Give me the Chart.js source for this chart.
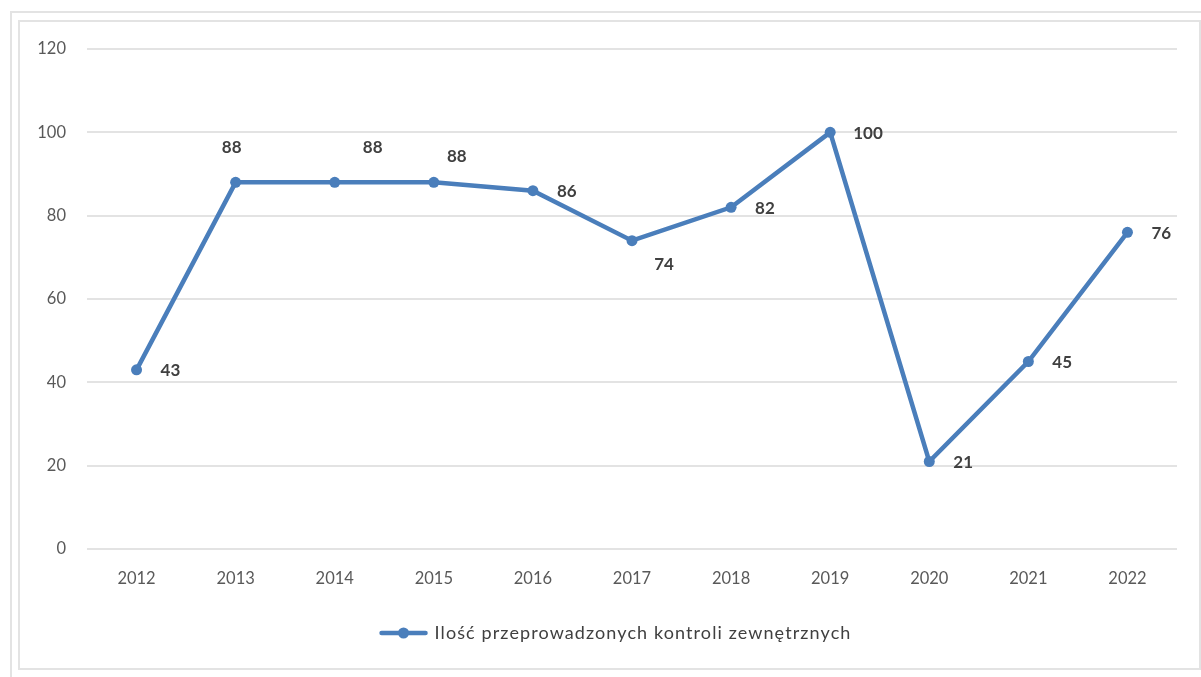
<!DOCTYPE html>
<html lang="pl">
<head>
<meta charset="utf-8">
<title>Ilość przeprowadzonych kontroli zewnętrznych</title>
<script src="https://cdn.jsdelivr.net/npm/chart.js@4.4.1/dist/chart.umd.min.js"></script>
<style>
  html, body { margin: 0; padding: 0; background: #ffffff; }
  body { width: 1201px; height: 677px; position: relative; overflow: hidden; }
  .frame-outer { position: absolute; left: 10px; top: 11px; width: 1200px; height: 700px;
                 border-left: 2px solid #e3e3e3; border-top: 2px solid #e3e3e3; box-sizing: border-box; }
  .frame-inner { position: absolute; left: 18px; top: 20px; width: 1183px; height: 650px;
                 border: 2px solid #e3e3e3; box-sizing: border-box; }
  #wrap { position: absolute; left: 0; top: 0; width: 1201px; height: 677px; }
</style>
</head>
<body>
<div class="frame-outer"></div>
<div class="frame-inner"></div>
<div id="wrap"><canvas id="chart" width="1201" height="677"></canvas></div>
<script>
// Years on the category axis
const years = ['2012', '2013', '2014', '2015', '2016', '2017', '2018', '2019', '2020', '2021', '2022'];
// Number of external inspections carried out per year
const inspections = [43, 88, 88, 88, 86, 74, 82, 100, 21, 45, 76];
// Value axis ticks
const yTicks = [0, 20, 40, 60, 80, 100, 120];

const seriesName = 'Ilość przeprowadzonych kontroli zewnętrznych';
const lineColor = '#4a7ebb';
const fontFamily = 'Lato, "Open Sans", sans-serif';

// Where each value label sits relative to its marker: [dx, dy, align]
const labelPlacement = [
  [24, 1, 'left'], [-4, -35, 'center'], [38, -35, 'center'], [23, -26, 'center'],
  [24, 1, 'left'], [32, 24, 'center'], [24, 1, 'left'], [23, 1, 'left'],
  [24, 1, 'left'], [24, 1, 'left'], [24, 1, 'left']
];

// Value labels next to each marker
const valueLabels = {
  id: 'valueLabels',
  afterDatasetsDraw(chart) {
    const meta = chart.getDatasetMeta(0);
    const ctx = chart.ctx;
    ctx.save();
    ctx.font = 'bold 17px ' + fontFamily;
    ctx.fillStyle = '#404040';
    ctx.textBaseline = 'middle';
    meta.data.forEach((pt, i) => {
      const [dx, dy, align] = labelPlacement[i];
      ctx.textAlign = align;
      ctx.fillText(String(chart.data.datasets[0].data[i]), pt.x + dx, pt.y + dy);
    });
    ctx.restore();
  }
};

// Legend under the axis: line-with-dot marker followed by the series name
const seriesLegend = {
  id: 'seriesLegend',
  afterDraw(chart) {
    const ctx = chart.ctx;
    const ds = chart.data.datasets[0];
    const y = 633;
    ctx.save();
    ctx.font = '18px ' + fontFamily;
    if ('letterSpacing' in ctx) ctx.letterSpacing = '1.1px';
    const textW = ctx.measureText(ds.label).width;
    const markW = 48, gap = 7;
    const total = markW + gap + textW;
    const x0 = chart.width / 2 + 15 - total / 2;
    ctx.strokeStyle = lineColor;
    ctx.lineWidth = 4.5;
    ctx.lineCap = 'round';
    ctx.beginPath(); ctx.moveTo(x0 + 2, y); ctx.lineTo(x0 + markW - 2, y); ctx.stroke();
    ctx.fillStyle = lineColor;
    ctx.beginPath(); ctx.arc(x0 + markW / 2, y, 5.5, 0, Math.PI * 2); ctx.fill();
    ctx.fillStyle = '#404040';
    ctx.textAlign = 'left';
    ctx.textBaseline = 'middle';
    ctx.fillText(ds.label, x0 + markW + gap, y);
    ctx.restore();
  }
};

new Chart(document.getElementById('chart'), {
  type: 'line',
  data: {
    labels: years,
    datasets: [{
      label: seriesName,
      data: inspections,
      borderColor: lineColor,
      backgroundColor: lineColor,
      borderWidth: 4.5,
      pointRadius: 5.5,
      pointHoverRadius: 5.5,
      pointBackgroundColor: lineColor,
      pointBorderWidth: 0,
      tension: 0
    }]
  },
  options: {
    responsive: false,
    animation: false,
    devicePixelRatio: 1,
    layout: { padding: { left: 20, right: 24, top: 49, bottom: 80 } },
    scales: {
      x: {
        offset: true,
        grid: { display: false, drawTicks: false },
        border: { display: false },
        ticks: { color: '#595959', font: { family: fontFamily, size: 16.5 }, padding: 20 },
        afterFit(s) { s.height = 48; }
      },
      y: {
        min: 0, max: 120,
        afterBuildTicks(s) { s.ticks = yTicks.map(v => ({ value: v })); },
        grid: { color: '#e3e3e3', lineWidth: 2, drawTicks: false },
        border: { display: false },
        ticks: { color: '#595959', font: { family: fontFamily, size: 16.5 }, padding: 21 },
        afterFit(s) { s.width = 67; }
      }
    },
    plugins: {
      legend: { display: false },
      tooltip: { enabled: false }
    }
  },
  plugins: [valueLabels, seriesLegend]
});
</script>
</body>
</html>
